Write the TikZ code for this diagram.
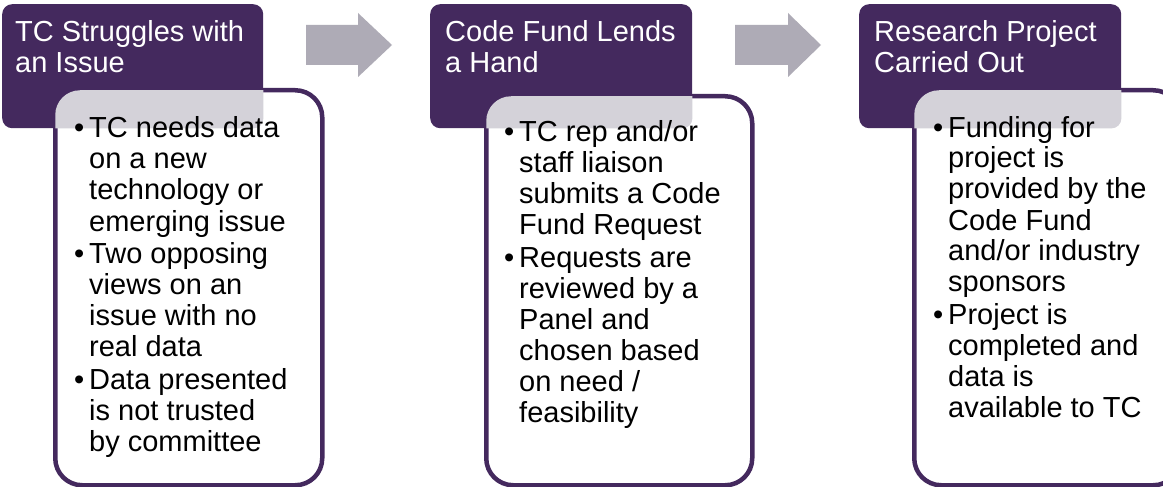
\documentclass[tikz,border=0pt]{standalone}
\usepackage{fontspec}
\setmainfont{Liberation Sans}
\definecolor{tcpurple}{HTML}{44295E}
\definecolor{arrowgray}{HTML}{AEABB6}
\definecolor{dotgray}{HTML}{D4D2D9}
\newcommand{\bul}{\leavevmode\llap{\textbullet\hspace{5pt}}}
\begin{document}
\begin{tikzpicture}[x=1pt,y=-1pt,
  hdr/.style={fill=tcpurple, rounded corners=10pt, draw=none, inner sep=0pt, anchor=north west},
  bodybox/.style={fill=white, draw=tcpurple, line width=4.5pt, rounded corners=27pt, inner sep=0pt, anchor=north west},
  hdrtext/.style={text=white, inner sep=0pt, anchor=base west, font=\fontsize{29}{31}\selectfont},
  bodytext/.style={text=black, inner sep=0pt, anchor=base west, font=\fontsize{29}{31}\selectfont},
  blockarrow/.style={fill=arrowgray},
  dots/.style={fill=dotgray, rounded corners=10pt}]
\useasboundingbox (0,0) rectangle (1163,487);
\fill[white] (0,0) rectangle (1163,487);
\begin{scope}
\clip (0,0) rectangle (1163,487);
% headers
\node[hdr, minimum width=261pt, minimum height=124pt] (h1) at (2,4) {};
\node[hdr, minimum width=262pt, minimum height=124pt] (h2) at (430,4) {};
\node[hdr, minimum width=262pt, minimum height=124pt] (h3) at (859,4) {};
% bodies
\node[bodybox, minimum width=267pt, minimum height=395pt] (b1) at (53,88) {};
\node[bodybox, minimum width=266pt, minimum height=389pt] (b2) at (484,94) {};
\node[bodybox, minimum width=266pt, minimum height=395pt] (b3) at (912,88) {};
% dotted overlap areas
\foreach \h/\b in {h1/b1,h2/b2,h3/b3}{
  \begin{scope}
    \clip[rounded corners=24.75pt] ([shift={(2.25,2.25)}]\b.north west) rectangle ([shift={(-2.25,-2.25)}]\b.south east);
    \fill[dots] (\h.north west) rectangle (\h.south east);
  \end{scope}
}
% arrows
\fill[blockarrow] (306,25) -- (358,25) -- (358,13) -- (392,45) -- (358,77) -- (358,65) -- (306,65) -- cycle;
\fill[blockarrow] (735,25) -- (788,25) -- (788,13) -- (821,45) -- (788,77) -- (788,65) -- (735,65) -- cycle;
% header texts
\node[hdrtext] (t1) at (15,42) {\parbox[t]{250pt}{\raggedright TC Struggles with\\an Issue}};
\node[hdrtext] (t2) at (445,42) {\parbox[t]{250pt}{\raggedright Code Fund Lends\\a Hand}};
\node[hdrtext] (t3) at (874,42) {\parbox[t]{250pt}{\raggedright Research Project\\Carried Out}};
% body texts
\node[bodytext] (x1) at (89,138) {\parbox[t]{230pt}{\raggedright\setlength{\parskip}{2pt}%
\bul TC needs data\\on a new\\technology or\\emerging issue\par
\bul Two opposing\\views on an\\issue with no\\real data\par
\bul Data presented\\is not trusted\\by committee}};
\node[bodytext] (x2) at (519,142) {\parbox[t]{230pt}{\raggedright\setlength{\parskip}{2pt}%
\bul TC rep and/or\\staff liaison\\submits a Code\\Fund Request\par
\bul Requests are\\reviewed by a\\Panel and\\chosen based\\on need /\\feasibility}};
\node[bodytext] (x3) at (948,137) {\parbox[t]{230pt}{\raggedright\setlength{\parskip}{2pt}%
\bul Funding for\\project is\\provided by the\\Code Fund\\and/or industry\\sponsors\par
\bul Project is\\completed and\\data is\\available to TC}};
\end{scope}
\end{tikzpicture}
\end{document}
